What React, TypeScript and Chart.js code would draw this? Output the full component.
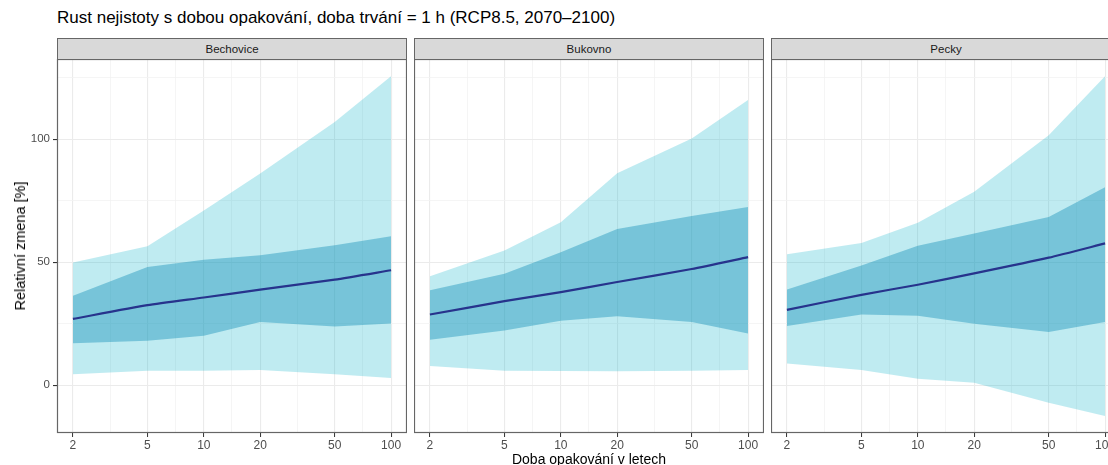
import React, { useEffect, useRef } from 'react';
import { Chart, registerables } from 'chart.js';
Chart.register(...registerables);

// ---- data ----
const returnPeriods = [2, 5, 10, 20, 50, 100];
const stations = ['Bechovice', 'Bukovno', 'Pecky'];

const bechoviceOuterLow = [4.4, 5.8, 5.8, 6.1, 4.4, 2.9];
const bechoviceInnerLow = [17.0, 18.0, 20.1, 25.6, 23.8, 25.0];
const bechoviceMedian = [26.9, 32.5, 35.6, 38.8, 42.9, 46.7];
const bechoviceInnerHigh = [36.3, 48.0, 51.0, 52.8, 56.9, 60.5];
const bechoviceOuterHigh = [49.8, 56.4, 71.0, 86.0, 107.0, 125.6];

const bukovnoOuterLow = [7.8, 5.8, 5.7, 5.6, 5.8, 6.1];
const bukovnoInnerLow = [18.4, 22.2, 26.2, 28.0, 25.6, 21.0];
const bukovnoMedian = [28.7, 34.1, 37.8, 41.9, 47.2, 52.0];
const bukovnoInnerHigh = [38.5, 45.3, 54.0, 63.5, 68.7, 72.4];
const bukovnoOuterHigh = [44.2, 54.7, 66.2, 86.1, 100.3, 116.0];

const peckyOuterLow = [8.8, 6.1, 2.6, 0.9, -7.2, -12.6];
const peckyInnerLow = [24.0, 28.7, 28.2, 24.9, 21.6, 25.6];
const peckyMedian = [30.6, 36.7, 40.8, 45.4, 51.8, 57.6];
const peckyInnerHigh = [38.8, 48.6, 56.7, 61.6, 68.3, 80.5];
const peckyOuterHigh = [53.2, 57.8, 66.0, 78.6, 101.6, 125.6];

const seriesByStation = [
  [bechoviceOuterLow, bechoviceInnerLow, bechoviceMedian, bechoviceInnerHigh, bechoviceOuterHigh],
  [bukovnoOuterLow, bukovnoInnerLow, bukovnoMedian, bukovnoInnerHigh, bukovnoOuterHigh],
  [peckyOuterLow, peckyInnerLow, peckyMedian, peckyInnerHigh, peckyOuterHigh],
];

const xMajorTicks = [2, 5, 10, 20, 50, 100];
const xMinorTicks = [3.162, 7.071, 14.142, 31.623, 70.711];
const yMajorTicks = [0, 50, 100];
const yMinorTicks = [25, 75, 125];

const titleText = 'Rust nejistoty s dobou opakování, doba trvání = 1 h (RCP8.5, 2070–2100)';
const xTitle = 'Doba opakování v letech';
const yTitle = 'Relativní zmena [%]';

// ---- layout ----
const FONT = '"Liberation Sans", Arial, sans-serif';
const panelLefts = [57, 414, 771];
const panelWidth = 350;
const plotTop = 59;
const plotBottom = 433;
const yMin = -19.5;
const yMax = 132.6;
const logSpan = Math.log10(100) - Math.log10(2);
const xMin = Math.pow(10, Math.log10(2) - 0.05 * logSpan);
const xMax = Math.pow(10, Math.log10(100) + 0.05 * logSpan);

const outerColor = 'rgba(0,175,200,0.25)';
const innerColor = 'rgba(18,142,183,0.42)';
const medianColor = '#27338c';

const isMajorX = (v: number) => xMajorTicks.includes(v);
const isMajorY = (v: number) => yMajorTicks.includes(v);

const borderPlugin = {
  id: 'panelBorder',
  afterDraw(chart: any) {
    const { ctx, chartArea } = chart;
    ctx.save();
    ctx.strokeStyle = '#666666';
    ctx.lineWidth = 1.2;
    ctx.strokeRect(chartArea.left + 0.5, chartArea.top + 0.5, chartArea.right - chartArea.left - 1, chartArea.bottom - chartArea.top - 1);
    ctx.restore();
  },
};

function Panel({ idx }: { idx: number }) {
  const ref = useRef<HTMLCanvasElement>(null);
  const showY = idx === 0;
  const left = showY ? 0 : panelLefts[idx];
  const width = showY ? panelLefts[0] + panelWidth : panelWidth;
  const height = 465 - plotTop;
  const axisH = height - (plotBottom - plotTop);

  useEffect(() => {
    const [oLow, iLow, med, iHigh, oHigh] = seriesByStation[idx];
    const pts = (arr: number[]) => returnPeriods.map((x, i) => ({ x, y: arr[i] }));
    const chart = new Chart(ref.current as HTMLCanvasElement, {
      type: 'line',
      data: {
        datasets: [
          { data: pts(oHigh), borderWidth: 0, pointRadius: 0, backgroundColor: outerColor, fill: '+1', order: 3 } as any,
          { data: pts(oLow), borderWidth: 0, pointRadius: 0, backgroundColor: outerColor, fill: false, order: 3 },
          { data: pts(iHigh), borderWidth: 0, pointRadius: 0, backgroundColor: innerColor, fill: '+1', order: 2 },
          { data: pts(iLow), borderWidth: 0, pointRadius: 0, backgroundColor: innerColor, fill: false, order: 2 },
          { data: pts(med), borderWidth: 2.2, borderColor: medianColor, pointRadius: 0, fill: false, order: 1, tension: 0.2 },
        ],
      },
      options: {
        animation: false,
        responsive: false,
        layout: { padding: 0 },
        plugins: { legend: { display: false }, tooltip: { enabled: false }, title: { display: false } },
        scales: {
          x: {
            type: 'logarithmic',
            min: xMin,
            max: xMax,
            afterBuildTicks: (s: any) => {
              s.ticks = [...xMajorTicks, ...xMinorTicks].sort((a, b) => a - b).map((v) => ({ value: v }));
            },
            afterFit: (s: any) => {
              s.height = axisH;
              s.paddingLeft = 0;
              s.paddingRight = 0;
            },
            ticks: {
              autoSkip: false,
              maxRotation: 0,
              minRotation: 0,
              padding: 1,
              color: '#4d4d4d',
              font: { family: FONT, size: 12 },
              callback: (v: any) => (isMajorX(Number(v)) ? String(v) : ''),
            },
            grid: {
              color: (c: any) => (c.tick && isMajorX(c.tick.value) ? '#ebebeb' : '#f2f2f2'),
              lineWidth: (c: any) => (c.tick && isMajorX(c.tick.value) ? 1.1 : 0.8),
              tickColor: (c: any) => (c.tick && isMajorX(c.tick.value) ? '#333333' : 'rgba(0,0,0,0)'),
              tickLength: 4,
              tickWidth: 1,
            },
            border: { display: false },
          },
          y: {
            type: 'linear',
            min: yMin,
            max: yMax,
            afterBuildTicks: (s: any) => {
              s.ticks = [...yMajorTicks, ...yMinorTicks].sort((a, b) => a - b).map((v) => ({ value: v }));
            },
            afterFit: (s: any) => {
              s.width = showY ? panelLefts[0] : 0;
              s.paddingTop = 0;
              s.paddingBottom = 0;
            },
            ticks: {
              display: showY,
              padding: 3,
              color: '#4d4d4d',
              font: { family: FONT, size: 11.5 },
              callback: (v: any) => (isMajorY(Number(v)) ? String(v) : ''),
            },
            grid: {
              color: (c: any) => (c.tick && isMajorY(c.tick.value) ? '#ebebeb' : '#f2f2f2'),
              lineWidth: (c: any) => (c.tick && isMajorY(c.tick.value) ? 1.1 : 0.8),
              tickColor: (c: any) => (c.tick && isMajorY(c.tick.value) ? '#333333' : 'rgba(0,0,0,0)'),
              drawTicks: showY,
              tickLength: 4,
            },
            border: { display: false },
          },
        },
      },
      plugins: [borderPlugin],
    } as any);
    return () => chart.destroy();
  }, []);

  return (
    <canvas
      ref={ref}
      width={width}
      height={height}
      style={{ position: 'absolute', left, top: plotTop, width, height }}
    />
  );
}

export default function App() {
  return (
    <div
      style={{
        position: 'absolute',
        left: 0,
        top: 0,
        width: 1108,
        height: 465,
        overflow: 'hidden',
        background: '#ffffff',
        fontFamily: FONT,
      }}
    >
      <div style={{ position: 'absolute', left: 57, top: 8, fontSize: 17, color: '#000', whiteSpace: 'nowrap' }}>{titleText}</div>
      {stations.map((s, i) => (
        <div
          key={s}
          style={{
            position: 'absolute',
            left: panelLefts[i],
            top: 38,
            width: panelWidth,
            height: 22,
            boxSizing: 'border-box',
            background: '#d9d9d9',
            border: '1px solid #666',
            color: '#1a1a1a',
            fontSize: 11.5,
            lineHeight: '20px',
            textAlign: 'center',
          }}
        >
          {s}
        </div>
      ))}
      {stations.map((s, i) => (
        <Panel key={s + 'p'} idx={i} />
      ))}
      <div
        style={{
          position: 'absolute',
          left: 20,
          top: (plotTop + plotBottom) / 2,
          transform: 'translate(-50%, -50%) rotate(-90deg)',
          fontSize: 14.5,
          color: '#000',
          whiteSpace: 'nowrap',
        }}
      >
        {yTitle}
      </div>
      <div
        style={{
          position: 'absolute',
          left: (panelLefts[0] + panelLefts[2] + panelWidth) / 2,
          top: 451,
          transform: 'translateX(-50%)',
          fontSize: 14,
          color: '#000',
          whiteSpace: 'nowrap',
        }}
      >
        {xTitle}
      </div>
    </div>
  );
}
